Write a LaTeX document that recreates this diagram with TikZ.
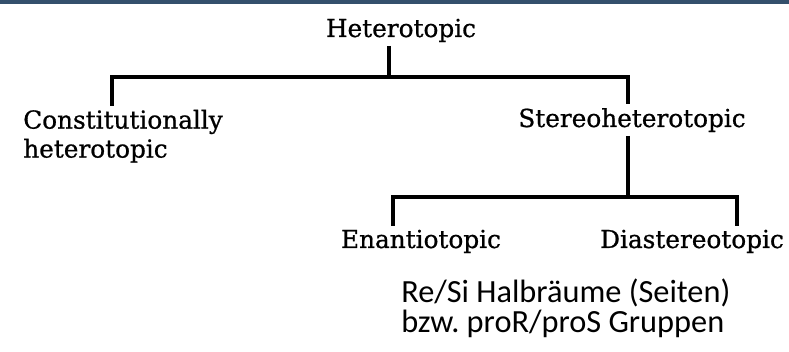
\documentclass[tikz,border=0pt]{standalone}
\usepackage{fontspec}
\newfontfamily\schoolfont[FakeBold=0.8]{DejaVu Serif}
\newfontfamily\notefont{Carlito}
\definecolor{barblue}{HTML}{34506C}
\begin{document}
\frenchspacing
\begin{tikzpicture}[x=0.025cm, y=-0.025cm,
  tree/.style={line width=2.6pt},
  lbl/.style={font=\schoolfont\fontsize{17.6}{20.6}\selectfont, inner xsep=0pt, inner ysep=2.5pt}]
  \useasboundingbox (0,0) rectangle (789,352);
  \fill[barblue] (0,0) rectangle (789,4);
  % the classes
  \node[lbl, anchor=base] (het) at (401,37) {Heterotopic};
  \node[lbl, anchor=north west, align=left] (con) at (23,106) {Constitutionally\\heterotopic};
  \node[lbl, anchor=base] (ster) at (632,127) {Stereoheterotopic};
  \node[lbl, anchor=base] (enan) at (421,248) {Enantiotopic};
  \node[lbl, anchor=base] (dia) at (692,248) {Diastereotopic};
  \node[font={\notefont\fontsize{23}{21.3}\selectfont\lineskiplimit=-20pt\relax}, anchor=north west, align=left, inner sep=0pt] (note) at (401,279) {Re/Si Halbräume (Seiten)\\bzw. proR/proS Gruppen};
  % the brackets
  \coordinate (hmid) at (389,77);
  \coordinate (hleft) at (112,77);
  \coordinate (hright) at (628,77);
  \draw[tree] (het.south -| hmid) -- (hmid);
  \draw[tree] (con.north -| hleft) -- (hleft) -- (hright) -- (ster.north -| hright);
  \coordinate (smid) at (628,197);
  \coordinate (sleft) at (393,197);
  \coordinate (sright) at (737,197);
  \draw[tree] (ster.south -| smid) -- (smid);
  \draw[tree] (enan.north -| sleft) -- (sleft) -- (sright) -- (dia.north -| sright);
\end{tikzpicture}
\end{document}
